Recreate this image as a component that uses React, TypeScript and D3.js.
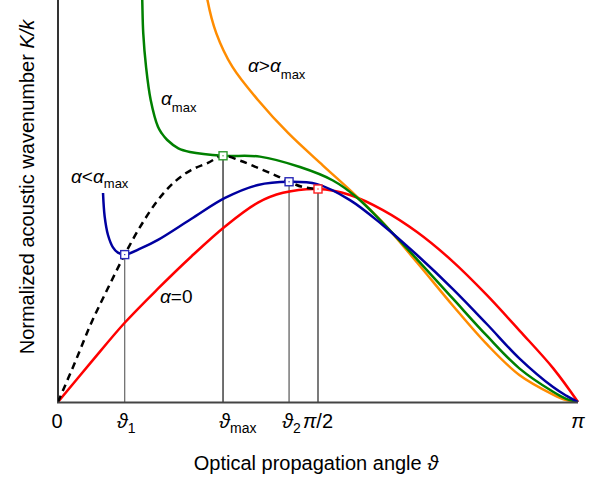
import React from "react";
import * as d3 from "d3";

const PI = Math.PI;

// alpha = 0 (red)
const redTheta = [0, 0.199, 0.403, 0.604, 0.804, 1.009, 1.208, 1.359, 1.571, 1.764, 1.963, 2.169, 2.379, 2.59, 2.791, 2.992, PI];
const redK = [0, 0.186, 0.372, 0.532, 0.682, 0.824, 0.936, 0.982, 1.0, 0.972, 0.901, 0.798, 0.664, 0.503, 0.333, 0.158, 0];

// alpha < alpha_max (blue)
const blueTheta = [0.272, 0.282, 0.302, 0.332, 0.362, 0.403, 0.503, 0.604, 0.804, 1.009, 1.208, 1.396, 1.565, 1.764, 1.963, 2.169, 2.386, 2.592, 2.787, 2.991, 3.07, PI];
const blueK = [0.981, 0.87, 0.784, 0.726, 0.701, 0.692, 0.722, 0.761, 0.859, 0.958, 1.019, 1.034, 1.023, 0.948, 0.83, 0.69, 0.53, 0.365, 0.205, 0.07, 0.03, 0];

// alpha_max (green)
const greenTheta = [0.504, 0.509, 0.515, 0.532, 0.56, 0.604, 0.627, 0.66, 0.727, 0.797, 0.997, 1.22, 1.462, 1.661, 1.806, 1.963, 2.169, 2.386, 2.592, 2.787, 2.991, 3.07, PI];
const greenK = [2.03, 1.887, 1.732, 1.573, 1.418, 1.292, 1.261, 1.23, 1.191, 1.174, 1.156, 1.152, 1.103, 1.04, 0.96, 0.84, 0.67, 0.485, 0.31, 0.158, 0.048, 0.015, 0];

// alpha > alpha_max (orange)
const orangeTheta = [0.888, 0.903, 0.956, 1.054, 1.208, 1.39, 1.601, 1.782, 1.963, 2.169, 2.386, 2.592, 2.787, 2.991, 3.07, PI];
const orangeK = [1.98, 1.887, 1.732, 1.573, 1.418, 1.263, 1.11, 0.982, 0.842, 0.655, 0.452, 0.27, 0.127, 0.035, 0.009, 0];

// locus of extrema (dashed black)
const dashTheta = [0, 0.101, 0.201, 0.302, 0.403, 0.503, 0.604, 0.705, 0.804, 0.906, 0.997, 1.1, 1.22, 1.32, 1.396, 1.48, 1.571];
const dashK = [0, 0.183, 0.371, 0.535, 0.692, 0.831, 0.948, 1.034, 1.089, 1.123, 1.156, 1.133, 1.095, 1.062, 1.034, 1.009, 1.0];

// marked extrema
const markerTheta = [0.403, 0.997, 1.396, PI / 2];
const markerK = [0.692, 1.156, 1.034, 1.0];
const markerColors = ["#2a2ab8", "#2e9a2e", "#2a2ab8", "#ff2020"];
const dropColors = ["#666", "#111", "#555", "#222"];

const FONT = "'Liberation Sans', Arial, 'DejaVu Sans', sans-serif";

const x = d3.scaleLinear().domain([0, PI]).range([58, 578]);
const y = d3.scaleLinear().domain([0, 1]).range([402, 189]);

const line = d3
  .line<[number, number]>()
  .x((d) => x(d[0]))
  .y((d) => y(d[1]))
  .curve(d3.curveCatmullRom.alpha(0.5));

const zip = (a: number[], b: number[]) => a.map((t, i) => [t, b[i]] as [number, number]);

export default function App() {
  const curves = [
    { t: redTheta, k: redK, c: "#ff0000" },
    { t: orangeTheta, k: orangeK, c: "#ff8c00" },
    { t: greenTheta, k: greenK, c: "#008000" },
    { t: blueTheta, k: blueK, c: "#0000a0" },
  ];
  const sub = 13;
  const tsub = 14;
  return (
    <svg
      width={605}
      height={479}
      style={{ position: "absolute", left: 0, top: 0, background: "#fff" }}
      fontFamily={FONT}
    >
      <defs>
        <clipPath id="plot">
          <rect x={58} y={0} width={530} height={403} />
        </clipPath>
      </defs>
      {/* drop lines */}
      {markerTheta.map((t, i) => (
        <line
          key={"d" + i}
          x1={x(t)}
          x2={x(t)}
          y1={y(0)}
          y2={y(markerK[i])}
          stroke={dropColors[i]}
          strokeWidth={1.2}
        />
      ))}
      <g clipPath="url(#plot)" fill="none" strokeWidth={2.5} strokeLinejoin="round">
        {curves.map((cv, i) => (
          <path key={i} d={line(zip(cv.t, cv.k)) || ""} stroke={cv.c} />
        ))}
        <path d={line(zip(dashTheta, dashK)) || ""} stroke="#000" strokeDasharray="7 5" />
      </g>
      {/* axes */}
      <line x1={58} x2={58} y1={0} y2={403} stroke="#000" strokeWidth={1.6} />
      <line x1={57} x2={x(PI)} y1={402.5} y2={402.5} stroke="#444" strokeWidth={2} />
      {/* markers */}
      {markerTheta.map((t, i) => (
        <g key={"m" + i}>
          <rect
            x={x(t) - 4}
            y={y(markerK[i]) - 4}
            width={8}
            height={8}
            fill="#fff"
            stroke={markerColors[i]}
            strokeWidth={1.4}
          />
          <rect x={x(t) - 0.6} y={y(markerK[i]) - 0.6} width={1.2} height={1.2} fill={markerColors[i]} />
        </g>
      ))}
      {/* tick labels */}
      <g fontSize={20} fill="#000">
        <text x={x(0) - 1} y={428} textAnchor="middle">0</text>
        <text x={x(markerTheta[0]) - 8} y={428}>
          <tspan fontStyle="italic">ϑ</tspan>
          <tspan fontSize={tsub} dy={5}>1</tspan>
        </text>
        <text x={x(markerTheta[1]) - 4} y={428}>
          <tspan fontStyle="italic">ϑ</tspan>
          <tspan fontSize={tsub} dy={5}>max</tspan>
        </text>
        <text x={x(markerTheta[2]) - 7} y={428}>
          <tspan fontStyle="italic">ϑ</tspan>
          <tspan fontSize={tsub} dy={5}>2</tspan>
        </text>
        <text x={x(PI / 2)} y={428} textAnchor="middle">
          <tspan fontStyle="italic">π</tspan>/2
        </text>
        <text x={x(PI)} y={428} textAnchor="middle" fontStyle="italic">π</text>
      </g>
      {/* axis titles */}
      <text x={316} y={470} textAnchor="middle" fontSize={20} fill="#000">
        Optical propagation angle <tspan fontStyle="italic">ϑ</tspan>
      </text>
      <text transform="translate(34,187) rotate(-90)" textAnchor="middle" fontSize={20} fill="#000">
        Normalized acoustic wavenumber <tspan fontStyle="italic">K/k</tspan>
      </text>
      {/* curve labels */}
      <g fontSize={19} fill="#000">
        <text x={248} y={72}>
          <tspan fontStyle="italic">α</tspan>
          <tspan>&gt;</tspan>
          <tspan fontStyle="italic">α</tspan>
          <tspan fontSize={sub} dy={7}>max</tspan>
        </text>
        <text x={161} y={105}>
          <tspan fontStyle="italic">α</tspan>
          <tspan fontSize={sub} dy={7}>max</tspan>
        </text>
        <text x={71} y={183}>
          <tspan fontStyle="italic">α</tspan>
          <tspan>&lt;</tspan>
          <tspan fontStyle="italic">α</tspan>
          <tspan fontSize={sub} dy={5}>max</tspan>
        </text>
        <text x={160} y={303}>
          <tspan fontStyle="italic">α</tspan>=0
        </text>
      </g>
    </svg>
  );
}
